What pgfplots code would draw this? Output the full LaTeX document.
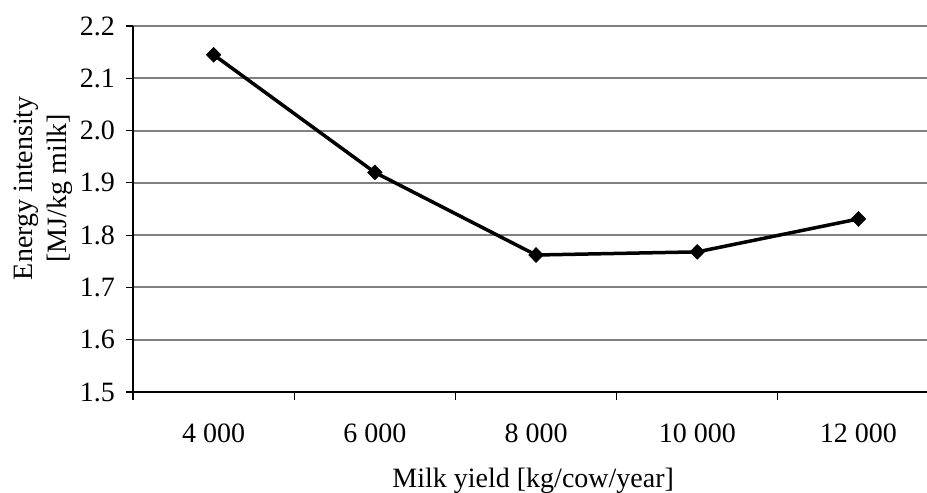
\documentclass[border=0pt]{standalone}
\usepackage{fontspec}
\setmainfont{Liberation Serif}
\usepackage{pgfplots}
\pgfplotsset{compat=1.18}
\begin{document}
\fontsize{28bp}{34bp}\selectfont
\begin{tikzpicture}
\begin{axis}[
  name=a, scale only axis, width=794bp, height=366bp,
  xmin=-0.5, xmax=4.425, ymin=1.5, ymax=2.2,
  axis x line*=bottom, axis y line*=left,
  axis line style={-, black, line width=1.5bp},
  ytick={1.5,1.6,1.7,1.8,1.9,2.0,2.1,2.2},
  yticklabel style={/pgf/number format/fixed, /pgf/number format/fixed zerofill,
    /pgf/number format/precision=1, /pgf/number format/assume math mode=true,
    anchor=east, inner sep=0pt, xshift=-11bp},
  ymajorgrids, major grid style={gray, line width=2bp},
  xtick={0,1,2,3,4}, xticklabels={4 000,6 000,8 000,10 000,12 000},
  xticklabel style={anchor=base, yshift=-43bp},
  major x tick style={draw=none},
  minor xtick={-0.5,0.5,1.5,2.5,3.5},
  tick align=outside, major tick length=7bp, minor tick length=8bp,
  tick style={black, line width=1.2bp},
  xlabel={Milk yield [kg/cow/year]},
  xlabel style={at={(axis description cs:0.504,-0.26)}, anchor=base},
  ylabel={Energy intensity\\{}[MJ/kg milk]},
  ylabel style={at={(axis description cs:-0.113,0.557)}, anchor=center, align=center},
]
\addplot[black, line width=3.5bp, mark=diamond*, mark size=7.5bp,
  mark options={solid, line width=0.5bp, xscale=1.3}]
  coordinates {(0,2.145)(1,1.92)(2,1.762)(3,1.768)(4,1.831)};
\end{axis}
\pgfresetboundingbox
\path[use as bounding box] ([xshift=-133bp,yshift=-101bp]a.south west) rectangle ([yshift=26bp]a.north east);
\end{tikzpicture}
\end{document}
